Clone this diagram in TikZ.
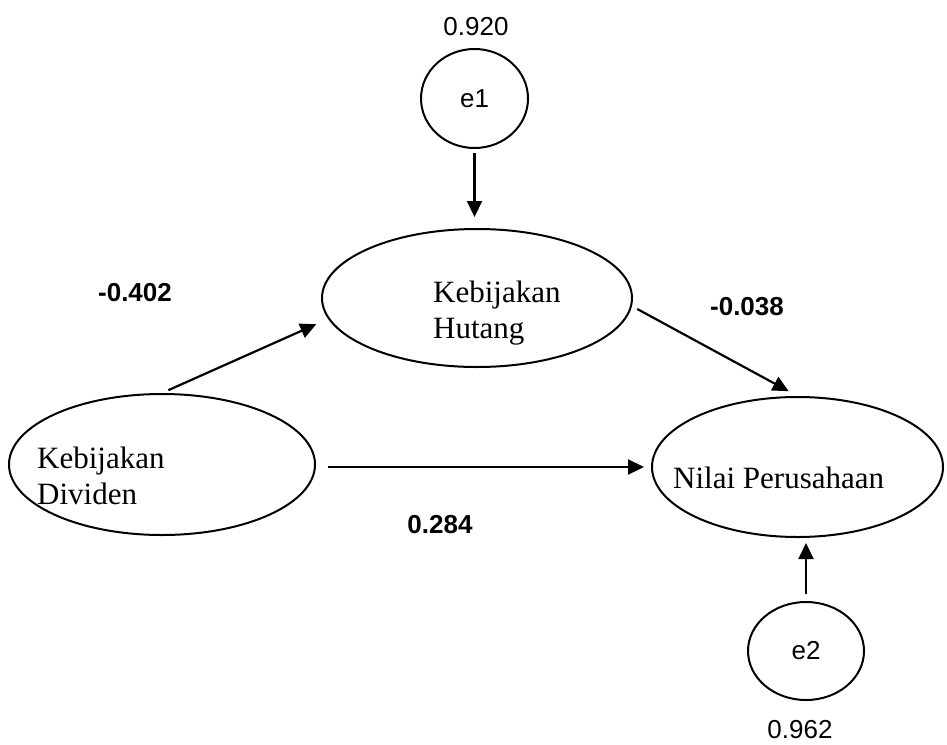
\documentclass[tikz,border=0pt]{standalone}
\usepackage{fontspec}
\setmainfont{Liberation Serif}
\newfontfamily\arialfont{Liberation Sans}
\usetikzlibrary{arrows.meta,shapes.geometric}
\begin{document}
\begin{tikzpicture}[
        x=1pt, y=-1pt,
        latent/.style={draw, ellipse, line width=2pt, inner sep=0pt},
        varname/.style={font=\fontsize{31}{36}\selectfont, inner sep=0pt, align=left},
        coef/.style={font=\arialfont\bfseries\fontsize{26}{30}\selectfont, inner sep=0pt},
        resid/.style={font=\arialfont\fontsize{26}{30}\selectfont, inner sep=0pt},
        effect/.style={draw, line width=2.2pt, -{Triangle[length=16pt, width=15pt]}}
    ]
    \useasboundingbox (0,0) rectangle (947,744);
    \node[latent, minimum width=306pt, minimum height=141pt] (div) at (162,464.5) {};
    \node[latent, minimum width=310pt, minimum height=138pt] (hutang) at (477,298) {};
    \node[latent, minimum width=291pt, minimum height=140pt] (nilai) at (797.5,467) {};
    \node[latent, resid, minimum width=107pt, minimum height=99pt] (e1) at (474.5,98.5) {e1};
    \node[latent, resid, minimum width=116pt, minimum height=98pt] (e2) at (806,651) {e2};

    \node[varname, anchor=west] (divtxt) at (37,475.5) {Kebijakan\\Dividen};
    \node[varname, anchor=west] (hutangtxt) at (433,313.5) {Kebijakan\\Hutang};
    \node[varname, anchor=base west] (nilaitxt) at (673,488) {Nilai Perusahaan};

    \draw[effect, shorten <=4pt, shorten >=11pt] (e1.south) -- (e1.south |- hutang.north);
    \draw[effect, shorten <=7pt, shorten >=13pt] (div.north) -- (hutang.188);
    \draw[effect, shorten <=6pt, shorten >=10pt] (hutang.-3) -- (nilai.north);
    \draw[effect, shorten <=12pt, shorten >=7pt] (div.east |- nilai.west) -- (nilai.west);
    \draw[effect, shorten <=7pt, shorten >=5pt] (e2.north) -- (e2.north |- nilai.south);

    \node[coef] (b1) at (135,293) {-0.402};
    \node[coef] (b2) at (747,307) {-0.038};
    \node[coef] (b3) at (440,525) {0.284};
    \node[resid] (r1) at (476,27) {0.920};
    \node[resid] (r2) at (800,730) {0.962};
\end{tikzpicture}
\end{document}
